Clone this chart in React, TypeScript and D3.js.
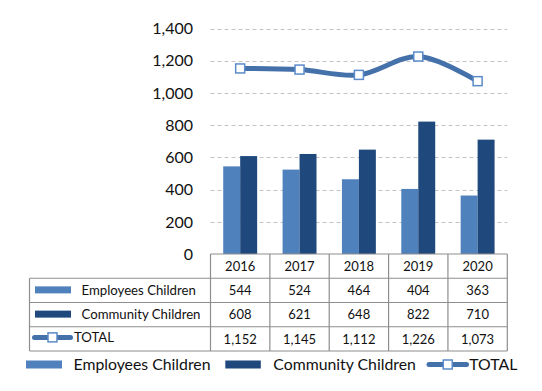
import React, { useRef, useEffect } from 'react';
import * as d3 from 'd3';

const years = ['2016', '2017', '2018', '2019', '2020'];
const employees = [544, 524, 464, 404, 363];
const community = [608, 621, 648, 822, 710];
const total = [1152, 1145, 1112, 1226, 1073];
const yTicks = [0, 200, 400, 600, 800, 1000, 1200, 1400];
const seriesNames = ['Employees Children', 'Community Children', 'TOTAL'];

const LIGHT = '#4f81bd';
const DARK = '#1f497d';
const LINE = '#4571ab';
const MARKER = '#5b8bc9';
const BORDER = '#8e8e8e';
const FONT = 'Lato, "Open Sans", sans-serif';

export default function App() {
  const svgRef = useRef<SVGSVGElement>(null);

  useEffect(() => {
    const width = 542;
    const height = 391;
    const plot = { left: 210.5, right: 507.3, top: 28.5, bottom: 254 };
    const tableLeft = 29.5;
    const rowH = 24.25;

    const svg = d3.select(svgRef.current);
    svg.selectAll('*').remove();
    svg.attr('width', width).attr('height', height);

    const x = d3.scaleBand().domain(years).range([plot.left, plot.right]).paddingInner(0).paddingOuter(0);
    const inner = d3.scaleBand().domain(['emp', 'com']).range([0, x.bandwidth()]).paddingInner(0).paddingOuter(0.75);
    const y = d3.scaleLinear().domain([0, 1400]).range([plot.bottom, plot.top]);

    // gridlines
    svg.append('g')
      .selectAll('line')
      .data(yTicks.filter(t => t > 0))
      .join('line')
      .attr('x1', plot.left)
      .attr('x2', plot.right)
      .attr('y1', d => Math.round(y(d)) + 0.5)
      .attr('y2', d => Math.round(y(d)) + 0.5)
      .attr('stroke', '#c4c4c4')
      .attr('stroke-dasharray', '4,3');

    // y labels
    svg.append('g')
      .selectAll('text')
      .data(yTicks)
      .join('text')
      .attr('x', 193)
      .attr('y', d => y(d))
      .attr('dy', '0.36em')
      .attr('text-anchor', 'end')
      .attr('font-family', FONT)
      .attr('font-size', 16)
      .attr('fill', '#111')
      .text(d => d3.format(',')(d));

    // bars
    const bars = svg.append('g');
    bars.selectAll('.emp')
      .data(years)
      .join('rect')
      .attr('class', 'emp')
      .attr('x', (d) => x(d)! + inner('emp')!)
      .attr('width', inner.bandwidth())
      .attr('y', (d, i) => y(employees[i]))
      .attr('height', (d, i) => plot.bottom - y(employees[i]))
      .attr('fill', LIGHT);
    bars.selectAll('.com')
      .data(years)
      .join('rect')
      .attr('class', 'com')
      .attr('x', (d) => x(d)! + inner('com')!)
      .attr('width', inner.bandwidth())
      .attr('y', (d, i) => y(community[i]))
      .attr('height', (d, i) => plot.bottom - y(community[i]))
      .attr('fill', DARK);

    // total line
    const line = d3.line<number>()
      .x((d, i) => x(years[i])! + x.bandwidth() / 2)
      .y(d => y(d))
      .curve(d3.curveCatmullRom.alpha(0.5));
    svg.append('path')
      .attr('d', line(total))
      .attr('fill', 'none')
      .attr('stroke', LINE)
      .attr('stroke-width', 5)
      .attr('stroke-linecap', 'round');
    svg.append('g')
      .selectAll('rect')
      .data(total)
      .join('rect')
      .attr('x', (d, i) => x(years[i])! + x.bandwidth() / 2 - 4.5)
      .attr('y', d => y(d) - 4.5)
      .attr('width', 9)
      .attr('height', 9)
      .attr('fill', '#fff')
      .attr('stroke', MARKER)
      .attr('stroke-width', 1.5);

    // data table
    const table = svg.append('g').attr('stroke', BORDER).attr('stroke-width', 1.2).attr('fill', 'none');
    const tTop = plot.bottom;
    const tBottom = tTop + rowH * 4;
    table.append('line').attr('x1', plot.left).attr('x2', plot.right).attr('y1', tTop).attr('y2', tTop);
    [1, 2, 3, 4].forEach(r => {
      table.append('line')
        .attr('x1', tableLeft).attr('x2', plot.right)
        .attr('y1', tTop + rowH * r).attr('y2', tTop + rowH * r);
    });
    table.append('line').attr('x1', tableLeft).attr('x2', tableLeft).attr('y1', tTop + rowH).attr('y2', tBottom);
    [...years.map(d => x(d)!), plot.right].forEach(v => {
      table.append('line').attr('x1', v).attr('x2', v).attr('y1', tTop).attr('y2', tBottom);
    });

    const cellText = svg.append('g')
      .attr('font-family', FONT)
      .attr('font-size', 13)
      .attr('fill', '#111')
      .attr('text-anchor', 'middle');
    const rows = [years, employees.map(d3.format(',')), community.map(d3.format(',')), total.map(d3.format(','))];
    rows.forEach((row, r) => {
      cellText.selectAll(`.r${r}`)
        .data(row)
        .join('text')
        .attr('class', `r${r}`)
        .attr('x', (d, i) => x(years[i])! + x.bandwidth() / 2)
        .attr('y', tTop + rowH * r + rowH / 2)
        .attr('dy', '0.36em')
        .text(d => d);
    });

    // legend keys
    const drawKey = (g: d3.Selection<SVGGElement, unknown, null, undefined>, kind: number, x0: number, cy: number, w: number, h: number) => {
      if (kind < 2) {
        g.append('rect').attr('x', x0).attr('y', cy - h / 2).attr('width', w).attr('height', h)
          .attr('fill', kind === 0 ? LIGHT : DARK);
      } else {
        g.append('line').attr('x1', x0 + 2.5).attr('x2', x0 + w - 2.5).attr('y1', cy).attr('y2', cy)
          .attr('stroke', LINE).attr('stroke-width', 5).attr('stroke-linecap', 'round');
        g.append('rect').attr('x', x0 + w / 2 - 4.5).attr('y', cy - 4.5).attr('width', 9).attr('height', 9)
          .attr('fill', '#fff').attr('stroke', MARKER).attr('stroke-width', 1.5);
      }
    };

    const tableKeys = svg.append('g');
    seriesNames.forEach((name, k) => {
      const cy = tTop + rowH * (k + 1) + rowH / 2;
      if (k < 2) {
        drawKey(tableKeys, k, 35, cy - 0.5, 36, 7);
        tableKeys.append('text').attr('x', 81.5).attr('y', cy).attr('dy', '0.36em')
          .attr('font-family', FONT).attr('font-size', 13.2).attr('fill', '#111').text(name);
      } else {
        drawKey(tableKeys, k, 32, cy - 1.5, 41, 7);
        tableKeys.append('text').attr('x', 74).attr('y', cy - 1.5).attr('dy', '0.36em')
          .attr('font-family', FONT).attr('font-size', 13.2).attr('fill', '#111').text(name);
      }
    });

    // bottom legend
    const legend = svg.append('g');
    const legY = 364.5;
    const legItems = [
      { key: 26, w: 36, text: 73.5 },
      { key: 225.3, w: 35.5, text: 273.3 },
      { key: 426.5, w: 42.5, text: 469.3 },
    ];
    legItems.forEach((it, k) => {
      drawKey(legend, k, it.key, legY, it.w, 8);
      legend.append('text').attr('x', it.text).attr('y', legY).attr('dy', '0.36em')
        .attr('font-family', FONT).attr('font-size', 15.8).attr('fill', '#111').text(seriesNames[k]);
    });
  }, []);

  return (
    <svg ref={svgRef} style={{ position: 'absolute', left: 0, top: 0, background: '#fff' }} />
  );
}
